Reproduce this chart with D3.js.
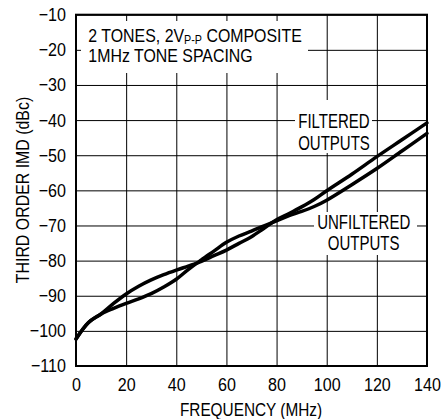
<!DOCTYPE html>
<html><head><meta charset="utf-8">
<script src="https://cdn.jsdelivr.net/npm/d3@7"></script>
<style>
body{margin:0;background:#fff;}
svg{display:block;}
text{font-family:"Liberation Sans",Arial,Helvetica,sans-serif;fill:#000;}
</style></head>
<body>
<script>
const xTicks = [0, 20, 40, 60, 80, 100, 120, 140];
const yTicks = [-110, -100, -90, -80, -70, -60, -50, -40, -30, -20, -10];
const freq       = [0, 5, 10, 15, 20, 25, 30, 35, 40, 45, 50, 55, 60, 65, 70, 75, 80, 85, 90, 95, 100, 110, 120, 130, 140];
const filtered   = [-102.3, -97.6, -95.2, -92.2, -89.5, -87.3, -85.5, -84.0, -82.7, -81.5, -80.2, -78.6, -77.0, -75.1, -73.2, -70.8, -68.4, -66.6, -64.7, -62.6, -60.1, -55.4, -50.4, -45.6, -40.8];
const unfiltered = [-102.3, -97.6, -95.2, -93.6, -92.2, -90.9, -89.4, -87.5, -85.3, -82.4, -79.8, -77.3, -74.8, -73.0, -71.6, -70.1, -68.7, -67.2, -66.0, -64.6, -62.8, -58.4, -53.8, -48.8, -43.8];
const titleLines = ["2 TONES, 2V", "P-P", " COMPOSITE", "1MHz TONE SPACING"];
const xLabel = "FREQUENCY (MHz)";
const yLabel = "THIRD ORDER IMD (dBc)";
const curveLabels = [["FILTERED", "OUTPUTS"], ["UNFILTERED", "OUTPUTS"]];

const W = 441, H = 419;
const L = 76, R = 427, T = 14.7, B = 366;

const svg = d3.select("body").append("svg").attr("width", W).attr("height", H);
const x = d3.scaleLinear().domain([0, 140]).range([L, R]);
const y = d3.scaleLinear().domain([-110, -10]).range([B, T]);

function squeeze(sel, sx) {
  sel.each(function () {
    const t = d3.select(this);
    const tx = +t.attr("x") || 0, ty = +t.attr("y") || 0;
    t.attr("x", 0).attr("y", 0).attr("transform", `translate(${tx},${ty}) scale(${sx},1)`);
  });
}

// grid + axes
const gx = svg.append("g").attr("transform", `translate(0,${B})`)
  .call(d3.axisBottom(x).tickValues(xTicks).tickSize(-(B - T)).tickPadding(12).tickFormat(d3.format("d")));
const gy = svg.append("g").attr("transform", `translate(${L},0)`)
  .call(d3.axisLeft(y).tickValues(yTicks).tickSize(-(R - L)).tickPadding(10).tickFormat(d3.format("d")));
[gx, gy].forEach(g => {
  g.select(".domain").remove();
  g.selectAll(".tick line").attr("stroke", "#000").attr("stroke-width", 1);
  g.selectAll(".tick text").attr("font-size", 18.5).attr("font-family", null).attr("fill", "#000");
  squeeze(g.selectAll(".tick text"), 0.87);
});

// white masks behind labels
const masks = [[81, 21, 227, 52], [295, 100, 77, 53], [314, 212, 103, 43]];
svg.selectAll("rect.mask").data(masks).enter().append("rect").attr("class", "mask")
  .attr("x", d => d[0]).attr("y", d => d[1]).attr("width", d => d[2]).attr("height", d => d[3]).attr("fill", "#fff");

// title
const TS = 0.86;
const t1 = svg.append("text").attr("font-size", 18.5).attr("transform", `translate(88.3,41.7) scale(${TS},1)`);
t1.append("tspan").text(titleLines[0]);
t1.append("tspan").attr("font-size", 12.5).attr("dy", 2).text(titleLines[1]);
t1.append("tspan").attr("dy", -2).text(titleLines[2]);
svg.append("text").attr("font-size", 18.5).attr("transform", `translate(88.3,61.7) scale(${TS},1)`).text(titleLines[3]);

// curve labels
const labPos = [[334, 128.3, 150], [363.7, 228.5, 249.5]];
curveLabels.forEach((lines, i) => {
  lines.forEach((s, j) => {
    svg.append("text").attr("font-size", 19.5).attr("text-anchor", "middle")
      .attr("transform", `translate(${labPos[i][0]},${labPos[i][1 + j]}) scale(0.77,1)`).text(s);
  });
});

// curves
const line = d3.line().x((d, i) => x(freq[i])).y(d => y(d)).curve(d3.curveCatmullRom.alpha(0.5));
[filtered, unfiltered].forEach(s => {
  svg.append("path").datum(s).attr("d", line).attr("fill", "none")
    .attr("stroke", "#000").attr("stroke-width", 3.5).attr("stroke-linejoin", "round").attr("stroke-linecap", "round");
});

// frame
svg.append("rect").attr("x", L).attr("y", T).attr("width", R - L).attr("height", B - T)
  .attr("fill", "none").attr("stroke", "#000").attr("stroke-width", 2);

// axis titles
svg.append("text").attr("font-size", 18.5).attr("text-anchor", "middle")
  .attr("transform", `translate(251,416) scale(0.83,1)`).text(xLabel);
svg.append("text").attr("font-size", 18.5).attr("text-anchor", "middle")
  .attr("transform", `translate(29,190) rotate(-90) scale(0.86,1)`).text(yLabel);
</script>
</body></html>
